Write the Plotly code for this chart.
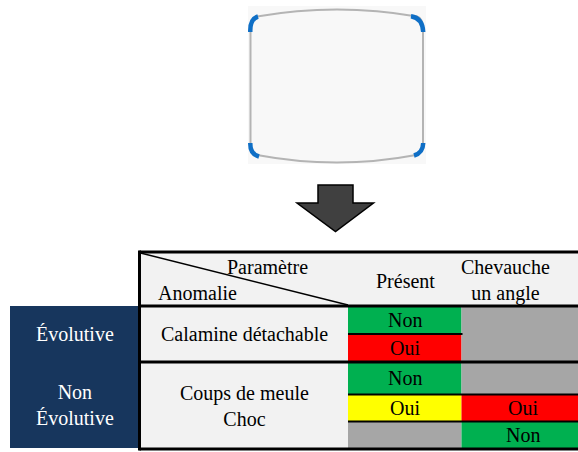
import plotly.graph_objects as go

# ---------------- data ----------------
parametres = ["Présent", "Chevauche<br>un angle"]
classes = ["Évolutive", "Non<br>Évolutive"]
anomalies = ["Calamine détachable", "Coups de meule<br>Choc"]

# sub-rows (5) : rows 0-1 -> Calamine, rows 2-4 -> Coups de meule / Choc
present_labels = ["Non", "Oui", "Non", "Oui", ""]
present_status = ["vert", "rouge", "vert", "jaune", "gris"]
chevauche_labels = ["", "", "", "Oui", "Non"]
chevauche_status = ["gris", "gris", "gris", "rouge", "vert"]

status_colors = {"vert": "#00b050", "rouge": "#ff0000", "jaune": "#ffff00", "gris": "#a6a6a6"}

# ---------------- layout geometry ----------------
W, H = 578, 452
FONT = "'Liberation Serif', 'Times New Roman', serif"
NAVY = "#17365d"
LIGHT = "#f2f2f2"

x_left = 139.5          # table left border
x_c1 = 348              # end of anomaly column
x_c2 = 461.5            # end of "Présent" column
x_right = 578
y_top = 252
y_head = 306
sub_y = [306, 334, 362, 394.5, 421.5, 449]
row_y = [306, 362, 449]

shapes = []
annotations = []

def rect(x0, y0, x1, y1, fill, line_w=0, line_c="black"):
    shapes.append(dict(type="rect", xref="x", yref="y", x0=x0, y0=y0, x1=x1, y1=y1,
                       fillcolor=fill, line=dict(width=line_w, color=line_c), layer="above"))

def line(x0, y0, x1, y1, w=3, c="black"):
    shapes.append(dict(type="line", xref="x", yref="y", x0=x0, y0=y0, x1=x1, y1=y1,
                       line=dict(width=w, color=c), layer="above"))

def text(x, y, t, color="black", size=20):
    annotations.append(dict(x=x, y=y, xref="x", yref="y", text=t, showarrow=False,
                            font=dict(family=FONT, size=size, color=color),
                            xanchor="center", yanchor="middle", align="center"))

# ---------- top picture (sheet outline with blue corners) ----------
rect(248, 6, 426, 164, "#f8f8f8")
outline = ("M 257,16.5 Q 337,2.5 417,16.5 Q 423,18 423,30 L 423,145 Q 423,153 416,155 "
           "Q 337,170 257,155 Q 250.5,153 250.5,145 L 250.5,30 Q 250.5,18 257,16.5 Z")
shapes.append(dict(type="path", xref="x", yref="y", path=outline, fillcolor="#f8f8f8",
                   line=dict(color="#b4b4b4", width=2), layer="above"))
blue = "#0f6fc6"
for p in ["M 250.3,32 Q 249.8,19 258,16.5",
          "M 411,16.3 Q 422.5,18 423.2,32",
          "M 250.3,143 Q 250,154 259,156.5",
          "M 423.2,143 Q 423,153 414,155.5"]:
    shapes.append(dict(type="path", xref="x", yref="y", path=p,
                       line=dict(color=blue, width=4.5), layer="above"))

# ---------- arrow ----------
arrow = "M 318,185 L 353,185 L 353,203 L 373.5,203 L 335.5,231.5 L 297,203 L 318,203 Z"
shapes.append(dict(type="path", xref="x", yref="y", path=arrow, fillcolor="#404040",
                   line=dict(color="black", width=1.5), layer="above"))

# ---------- table ----------
rect(x_left, y_top, x_right, y_head, LIGHT)
rect(10, row_y[0], x_left, row_y[-1] - 1, NAVY)
rect(x_left, row_y[0], x_c1, row_y[-1], LIGHT)

for i in range(5):
    rect(x_c1, sub_y[i], x_c2, sub_y[i + 1], status_colors[present_status[i]])
    rect(x_c2, sub_y[i], x_right, sub_y[i + 1], status_colors[chevauche_status[i]])

for i in range(5):
    yc = (sub_y[i] + sub_y[i + 1]) / 2
    if present_labels[i]:
        text(405, yc, present_labels[i])
    if chevauche_labels[i]:
        text(523, yc, chevauche_labels[i])

line(x_c1, sub_y[1], x_c2 + 1, sub_y[1], w=2.2)
line(x_c1, sub_y[3], x_right, sub_y[3], w=2.2)
line(x_c1, sub_y[4], x_right, sub_y[4], w=2.2)

line(x_left, y_top, x_right, y_top, w=3)
line(x_left, y_head, x_right, y_head, w=3)
line(x_left, row_y[1], x_right, row_y[1], w=3)
line(x_left, row_y[2], x_right, row_y[2], w=3)
line(x_left, y_top - 1.5, x_left, row_y[2] + 1.5, w=3)
line(x_left + 1, y_top + 1, x_c1, y_head - 1, w=1.5)

text(267, 267, "Paramètre")
text(197, 293, "Anomalie")
text(405.5, 281, parametres[0])
text(505, 280, parametres[1])

text(74.5, 334, classes[0], color="white")
text(74.5, 405, classes[1], color="white")

text(244, 334, anomalies[0])
text(244, 406, anomalies[1])

fig = go.Figure()
fig.update_layout(
    width=W, height=H, autosize=False,
    margin=dict(l=0, r=0, t=0, b=0, pad=0),
    paper_bgcolor="white", plot_bgcolor="white",
    xaxis=dict(range=[0, W], visible=False, fixedrange=True),
    yaxis=dict(range=[H, 0], visible=False, fixedrange=True),
    shapes=shapes, annotations=annotations, showlegend=False,
)
fig.write_html(
    "out.html",
    config={"displayModeBar": False},
    post_script="document.body.style.margin='0';document.body.style.overflow='hidden';",
)
